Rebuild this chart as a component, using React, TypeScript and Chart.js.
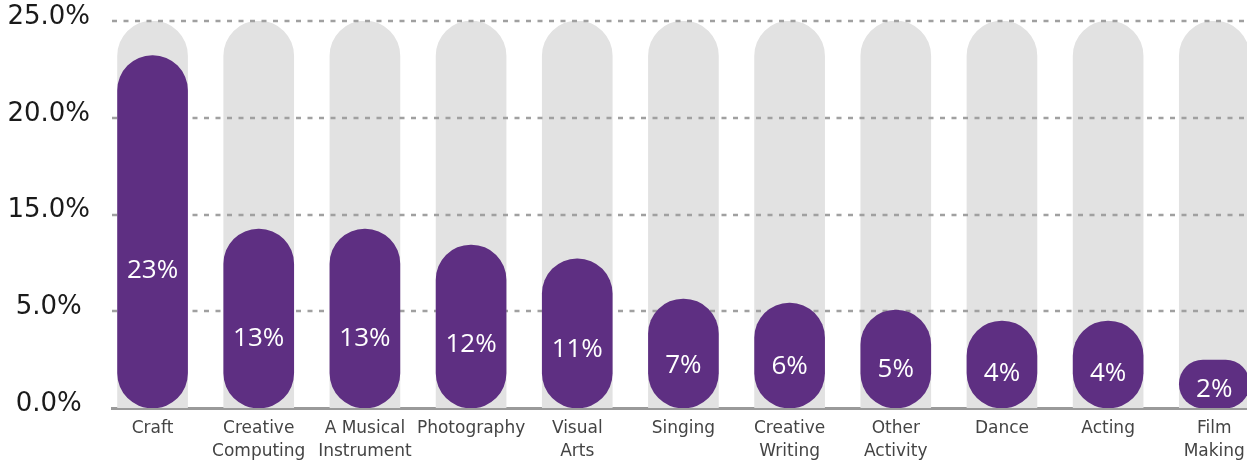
import React, { useEffect, useRef } from "react";
import { Chart, registerables } from "chart.js";

Chart.register(...registerables);

const categories = [
  "Craft",
  "Creative\nComputing",
  "A Musical\nInstrument",
  "Photography",
  "Visual\nArts",
  "Singing",
  "Creative\nWriting",
  "Other\nActivity",
  "Dance",
  "Acting",
  "Film\nMaking",
];
const barValues = [22.76, 11.56, 11.56, 10.53, 9.63, 7.04, 6.78, 6.33, 5.62, 5.62, 3.1];
const valueLabels = ["23%", "13%", "13%", "12%", "11%", "7%", "6%", "5%", "4%", "4%", "2%"];
const trackValues = [25, 25, 25, 25, 25, 25, 25, 25, 25, 25, 25];
const yTickValues = [0, 6.25, 12.5, 18.75, 25];
const yTickLabels = ["0.0%", "5.0%", "15.0%", "20.0%", "25.0%"];

const PURPLE = "#5e2f82";
const TRACK = "#e2e2e2";
const FONT = "'DejaVu Sans', sans-serif";
const LABEL_FONT = "'Open Sans', 'DejaVu Sans', sans-serif";

const overlayPlugin = {
  id: "overlay",
  afterDatasetDraw(chart: any, args: any) {
    if (args.index !== 1) return;
    const { ctx, chartArea } = chart;
    const y = chart.scales.y;
    ctx.save();
    ctx.strokeStyle = "#a0a0a0";
    ctx.lineWidth = 2.5;
    ctx.setLineDash([5, 6.5]);
    ctx.lineCap = "butt";
    yTickValues.forEach((v) => {
      if (v === 0) return;
      const py = Math.round(y.getPixelForValue(v));
      ctx.beginPath();
      ctx.moveTo(chartArea.left, py);
      ctx.lineTo(chartArea.right, py);
      ctx.stroke();
    });
    ctx.restore();
  },
  afterDatasetsDraw(chart: any) {
    const { ctx } = chart;
    const x = chart.scales.x;
    const y = chart.scales.y;
    ctx.save();
    ctx.fillStyle = "#ffffff";
    ctx.font = `normal 26px ${LABEL_FONT}`;
    ctx.textAlign = "center";
    ctx.textBaseline = "middle";
    barValues.forEach((v, i) => {
      ctx.fillText(valueLabels[i], x.getPixelForValue(i), y.getPixelForValue(v * 0.39));
    });
    ctx.restore();
  },
};

export default function App() {
  const ref = useRef<HTMLCanvasElement | null>(null);

  useEffect(() => {
    document.body.style.margin = "0";
    const canvas = ref.current;
    if (!canvas) return;
    const chart = new Chart(canvas, {
      type: "bar",
      data: {
        datasets: [
          {
            label: "Share",
            data: barValues.map((v, i) => ({ x: i, y: v })),
            backgroundColor: PURPLE,
            borderRadius: 35,
            borderSkipped: false,
            barThickness: 70,
            grouped: false,
          } as any,
          {
            label: "Track",
            data: trackValues.map((v, i) => ({ x: i, y: v })),
            backgroundColor: TRACK,
            borderRadius: { topLeft: 35, topRight: 35, bottomLeft: 0, bottomRight: 0 },
            borderSkipped: "bottom",
            barThickness: 70,
            grouped: false,
          } as any,
        ],
      },
      options: {
        responsive: false,
        animation: false,
        layout: { padding: { top: 21, right: 0, left: 0, bottom: 0 } },
        plugins: {
          legend: { display: false },
          tooltip: { enabled: false },
        },
        scales: {
          x: {
            type: "linear",
            offset: false,
            min: -0.382,
            max: 10.308,
            grid: { display: false, drawTicks: false },
            border: { display: true, color: "#9a9a9a", width: 3 },
            afterBuildTicks: (axis: any) => {
              axis.ticks = categories.map((_, i) => ({ value: i }));
            },
            afterFit: (axis: any) => {
              axis.height = 56;
              axis.paddingLeft = 0;
              axis.paddingRight = 0;
            },
            ticks: {
              autoSkip: false,
              maxRotation: 0,
              minRotation: 0,
              padding: 10,
              color: "#444444",
              font: { family: FONT, size: 17, lineHeight: 1.3 },
              callback: (value: any) => {
                const c = categories[Math.round(Number(value))];
                return c ? c.split("\n") : "";
              },
            },
          },
          y: {
            min: 0,
            max: 25,
            grid: { display: false, drawTicks: false },
            border: { display: false },
            afterBuildTicks: (axis: any) => {
              axis.ticks = yTickValues.map((v) => ({ value: v }));
            },
            afterFit: (axis: any) => {
              axis.width = 112;
              axis.paddingTop = 0;
              axis.paddingBottom = 0;
            },
            ticks: {
              crossAlign: "center",
              padding: 22,
              labelOffset: -4,
              color: "#1a1a1a",
              font: { family: FONT, size: 26, weight: "normal" },
              callback: (value: any) => {
                const idx = yTickValues.indexOf(Number(value));
                return idx >= 0 ? yTickLabels[idx] : "";
              },
            },
          },
        },
      },
      plugins: [overlayPlugin],
    });
    return () => chart.destroy();
  }, []);

  return (
    <div style={{ width: 1247, height: 464, background: "#fff" }}>
      <canvas ref={ref} width={1247} height={464} style={{ display: "block" }} />
    </div>
  );
}
